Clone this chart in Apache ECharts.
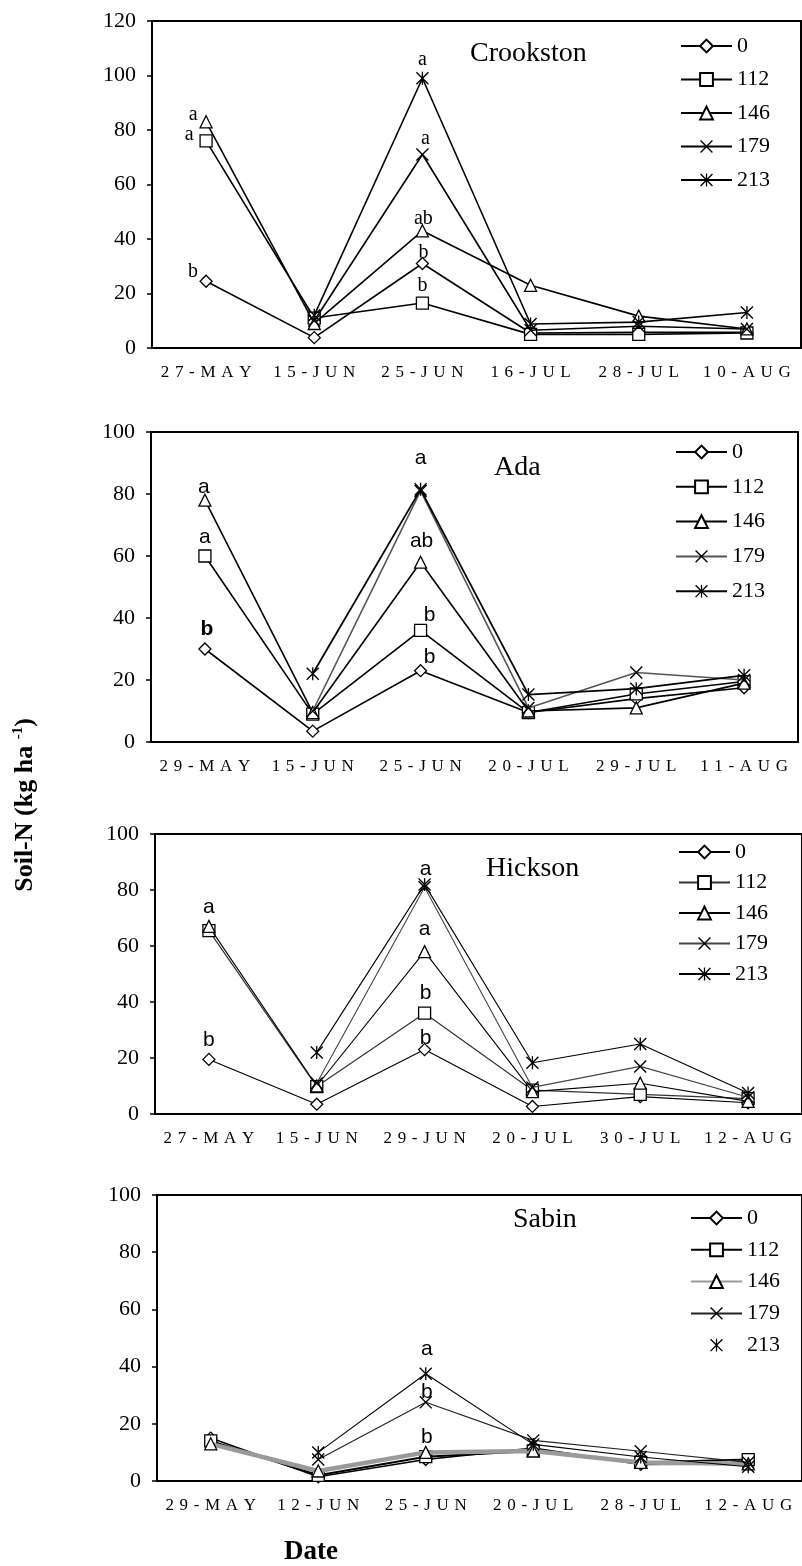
<!DOCTYPE html>
<html>
<head>
<meta charset="utf-8">
<script src="https://cdn.jsdelivr.net/npm/echarts@6/dist/echarts.min.js"></script>
<style>
  html, body { margin: 0; padding: 0; background: #fff; }
  #chart { width: 802px; height: 1566px; }
</style>
</head>
<body>
<div id="chart"></div>
<script>
// N rates (kg ha-1) shown in every legend
const rates = ['0', '112', '146', '179', '213'];

// Crookston
const crookstonDates = ['27-MAY', '15-JUN', '25-JUN', '16-JUL', '28-JUL', '10-AUG'];
const crookston0   = [24.5, 3.8, 31, 5.5, 5.8, 5.8];
const crookston112 = [76, 11, 16.5, 5, 5, 5.5];
const crookston146 = [83, 9, 43, 23, 11.7, 7];
const crookston179 = [null, 10, 71, 6.5, 8, 7];
const crookston213 = [null, 12, 99, 8.8, 9.5, 13];
const crookstonLetters = [['146', 0, 'a'], ['112', 0, 'a'], ['0', 0, 'b'], ['213', 2, 'a'], ['179', 2, 'a'], ['146', 2, 'ab'], ['0', 2, 'b'], ['112', 2, 'b']];

// Ada
const adaDates = ['29-MAY', '15-JUN', '25-JUN', '20-JUL', '29-JUL', '11-AUG'];
const ada0   = [30, 3.5, 23, 9.5, 14, 17.5];
const ada112 = [60, 9, 36, 9.5, 15.5, 19.5];
const ada146 = [78, 9.5, 58, 10, 11, 19];
const ada179 = [null, 10, 81, 11, 22.4, 20];
const ada213 = [null, 22, 81.5, 15.3, 17.2, 21.5];
const adaLetters = [['146', 0, 'a'], ['112', 0, 'a'], ['0', 0, 'b'], ['213', 2, 'a'], ['146', 2, 'ab'], ['112', 2, 'b'], ['0', 2, 'b']];

// Hickson
const hicksonDates = ['27-MAY', '15-JUN', '29-JUN', '20-JUL', '30-JUL', '12-AUG'];
const hickson0   = [19.5, 3.5, 23, 2.7, 6.2, 4];
const hickson112 = [65.5, 9.8, 36, 8.5, 7, 5.5];
const hickson146 = [67, 10, 58, 8, 11, 4.5];
const hickson179 = [null, 11, 81, 9.5, 17, 6];
const hickson213 = [null, 22, 82, 18.3, 25, 7.5];
const hicksonLetters = [['146', 0, 'a'], ['0', 0, 'b'], ['213', 2, 'a'], ['146', 2, 'a'], ['112', 2, 'b'], ['0', 2, 'b']];

// Sabin
const sabinDates = ['29-MAY', '12-JUN', '25-JUN', '20-JUL', '28-JUL', '12-AUG'];
const sabin0   = [15, 1.5, 7.5, 11.5, 5.8, 6];
const sabin112 = [14, 2, 8.5, 10.5, 6.5, 7.5];
const sabin146 = [13, 3.5, 10, 10.5, 6.5, 6];
const sabin179 = [null, 7.5, 27.5, 14.2, 10.4, 6.5];
const sabin213 = [null, 10, 37.5, 12.8, 8.4, 5];
const sabinLetters = [['213', 2, 'a'], ['179', 2, 'b'], ['146', 2, 'b']];

// ---------------------------------------------------------------- styling
const SERIF = '"Liberation Serif", "Times New Roman", serif';
const NARROW = '"Liberation Sans Narrow", "Liberation Sans", Arial, sans-serif';

const X_PATH = 'path://M0,0.9L0.9,0L12,11.1L11.1,12Z M11.1,0L12,0.9L0.9,12L0,11.1Z';
const STAR_PATH = 'path://M0,0.9L0.9,0L12,11.1L11.1,12Z M11.1,0L12,0.9L0.9,12L0,11.1Z M5.4,0L6.6,0L6.6,12L5.4,12Z';
const symbolOf = { '0': 'diamond', '112': 'rect', '146': 'triangle', '179': X_PATH, '213': STAR_PATH };
const symbolSizeOf = { '0': 12, '112': 12, '146': 12, '179': 13, '213': 13 };

// where each letter sits relative to its point (px), same order as the letter lists
const letterOffsets = {
  Crookston: [[-13, -7], [-17, -6], [-13, -9], [0, -18], [3, -16], [1, -12], [1, -11], [0, -17]],
  Ada: [[-1, -13], [0, -19], [2, -20], [0, -31], [1, -21], [9, -15], [9, -13]],
  Hickson: [[0, -19], [0, -19], [1, -15], [0, -22], [1, -20], [1, -11]],
  Sabin: [[1, -25], [1, -10], [1, -15]]
};
const letterFont = { Crookston: SERIF, Ada: NARROW, Hickson: NARROW, Sabin: NARROW };
const boldLetter = { Ada: 2 };

const lineLook = {
  Crookston: { '0': ['#000', 1.6], '112': ['#000', 1.6], '146': ['#000', 1.6], '179': ['#000', 1.6], '213': ['#000', 1.6] },
  Ada:       { '0': ['#000', 1.6], '112': ['#000', 1.6], '146': ['#000', 1.6], '179': ['#555', 1.6], '213': ['#000', 1.8] },
  Hickson:   { '0': ['#000', 1.1], '112': ['#333', 1.2], '146': ['#000', 1.1], '179': ['#444', 1.1], '213': ['#000', 1.1] },
  Sabin:     { '0': ['#000', 1.6], '112': ['#000', 2], '146': ['#9a9a9a', 4.5], '179': ['#222', 1.1], '213': ['#000', 1.1] }
};

const panels = [
  { key: 'Crookston', dates: crookstonDates, values: [crookston0, crookston112, crookston146, crookston179, crookston213], letters: crookstonLetters, max: 120,
    grid: { left: 152, top: 21, width: 649, height: 327 }, legend: { left: 680, top: 35, itemGap: 11.5 }, title: [470, 54] },
  { key: 'Ada', dates: adaDates, values: [ada0, ada112, ada146, ada179, ada213], letters: adaLetters, max: 100,
    grid: { left: 151, top: 432, width: 647, height: 310 }, legend: { left: 675, top: 441, itemGap: 12.8 }, title: [494, 468] },
  { key: 'Hickson', dates: hicksonDates, values: [hickson0, hickson112, hickson146, hickson179, hickson213], letters: hicksonLetters, max: 100,
    grid: { left: 155, top: 834, width: 649, height: 280 }, legend: { left: 678, top: 841, itemGap: 8.5 }, title: [486, 869] },
  { key: 'Sabin', dates: sabinDates, values: [sabin0, sabin112, sabin146, sabin179, sabin213], letters: sabinLetters, max: 100,
    grid: { left: 157, top: 1195, width: 652, height: 286 }, legend: { left: 690, top: 1207, itemGap: 9.8 }, title: [513, 1220] }
];

// spread the date letters apart
const spaced = s => s.split('').join('\u2004');

const grids = [], xAxes = [], yAxes = [], legends = [], series = [], graphics = [];

panels.forEach((p, gi) => {
  grids.push(Object.assign({ show: true, borderColor: '#000', borderWidth: 2, backgroundColor: 'transparent' }, p.grid));
  xAxes.push({
    type: 'category', gridIndex: gi, data: p.dates, boundaryGap: true,
    axisLine: { lineStyle: { color: '#000', width: 2 } },
    axisTick: { length: 6, interval: 0, lineStyle: { color: '#000', width: 1.5 } },
    axisLabel: { color: '#000', fontFamily: SERIF, fontSize: 17, margin: 16, interval: 0, hideOverlap: false, formatter: spaced },
    splitLine: { show: false }
  });
  yAxes.push({
    type: 'value', gridIndex: gi, min: 0, max: p.max, interval: 20,
    axisLine: { show: true, lineStyle: { color: '#000', width: 2 } },
    axisTick: { show: true, length: 5, lineStyle: { color: '#000', width: 1.5 } },
    axisLabel: { color: '#000', fontFamily: SERIF, fontSize: 22, margin: 16 },
    splitLine: { show: false }
  });

  const names = rates.map(r => p.key + '|' + r);
  legends.push(Object.assign({
    orient: 'vertical', padding: 0, itemWidth: 51, itemHeight: 16, selectedMode: false,
    textStyle: { color: '#000', fontFamily: SERIF, fontSize: 22 },
    formatter: n => n.split('|')[1],
    data: names.map(n => (p.key === 'Sabin' && n.endsWith('|213')) ? { name: n, lineStyle: { opacity: 0 } } : n)
  }, p.legend));

  rates.forEach((r, ri) => {
    const [color, width] = lineLook[p.key][r];
    const hollow = r === '0' || r === '112' || r === '146';
    const data = p.values[ri].map((v, ci) => {
      const k = p.letters.findIndex(l => l[0] === r && l[1] === ci);
      if (k < 0) return v;
      return {
        value: v,
        label: {
          show: true, position: 'inside', offset: letterOffsets[p.key][k],
          formatter: p.letters[k][2], color: '#000',
          fontFamily: letterFont[p.key], fontSize: p.key === 'Crookston' ? 20 : 21,
          fontWeight: boldLetter[p.key] === k ? 'bold' : 'normal'
        }
      };
    });
    series.push({
      type: 'line', name: p.key + '|' + r, xAxisIndex: gi, yAxisIndex: gi, data,
      symbol: symbolOf[r], symbolSize: symbolSizeOf[r], showAllSymbol: true,
      lineStyle: { color, width },
      itemStyle: hollow ? { color: '#fff', borderColor: '#000', borderWidth: 1.3 } : { color: '#000', borderWidth: 0 },
      emphasis: { disabled: true },
      z: 2 + ri
    });
  });

  graphics.push({
    type: 'text', x: p.title[0], y: p.title[1],
    style: { text: p.key, font: '28px ' + SERIF, fill: '#000', textVerticalAlign: 'middle', verticalAlign: 'middle' }
  });
});

graphics.push({
  type: 'text', x: 25, y: 805, rotation: Math.PI / 2,
  style: {
    text: '{m|Soil-N (kg ha }{s|-1}{m|)}', fill: '#000',
    textAlign: 'center', align: 'center', textVerticalAlign: 'middle', verticalAlign: 'middle',
    rich: {
      m: { fontFamily: SERIF, fontWeight: 'bold', fontSize: 26, lineHeight: 28 },
      s: { fontFamily: SERIF, fontWeight: 'bold', fontSize: 15, lineHeight: 28, verticalAlign: 'top' }
    }
  }
});
graphics.push({
  type: 'text', x: 311, y: 1552,
  style: { text: 'Date', font: 'bold 27px ' + SERIF, fill: '#000', textAlign: 'center', align: 'center', textVerticalAlign: 'middle', verticalAlign: 'middle' }
});

const chart = echarts.init(document.getElementById('chart'), null, { renderer: 'canvas' });
chart.setOption({
  animation: false,
  backgroundColor: '#fff',
  grid: grids, xAxis: xAxes, yAxis: yAxes, legend: legends, series,
  graphic: graphics
});
</script>
</body>
</html>
